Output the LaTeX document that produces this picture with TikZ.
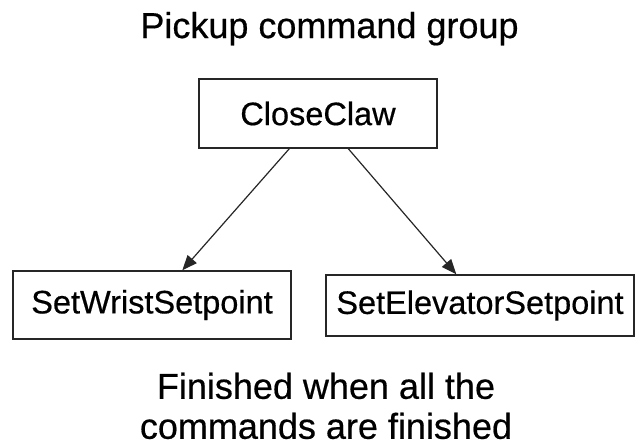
\documentclass[tikz,border=0pt]{standalone}
\usepackage{fontspec}
\setmainfont{Liberation Sans}[FakeBold=0.5]
\usetikzlibrary{arrows.meta}
\begin{document}
\begin{tikzpicture}[x=1pt,y=-1pt,
  box/.style={draw=black!85,line width=1.4pt,inner sep=0pt,font=\fontsize{32.5}{36}\selectfont},
  heading/.style={inner sep=0pt,font=\fontsize{36}{40}\selectfont},
  arr/.style={draw=black!85,line width=1.2pt,-{Triangle[length=15pt,width=12pt]}}]
\useasboundingbox (0,0) rectangle (635,445);
\node[heading,anchor=base] (title) at (329.5,38) {Pickup command group};
\node[box,minimum width=238pt,minimum height=69pt] (cc) at (318,113.5) {CloseClaw};
\node[box,minimum width=278pt,minimum height=68pt] (w) at (152,305) {SetWristSetpoint};
\node[box,minimum width=308pt,minimum height=61pt] (e) at (480,305.5) {SetElevatorSetpoint};
\node[heading,anchor=north,align=center] (note) at (326,372.5) {Finished when all the\\commands are finished};
\draw[arr] ([xshift=91pt]cc.south west) -- ([xshift=170pt]w.north west);
\draw[arr] ([xshift=150pt]cc.south west) -- ([xshift=131pt]e.north west);
\end{tikzpicture}
\end{document}
